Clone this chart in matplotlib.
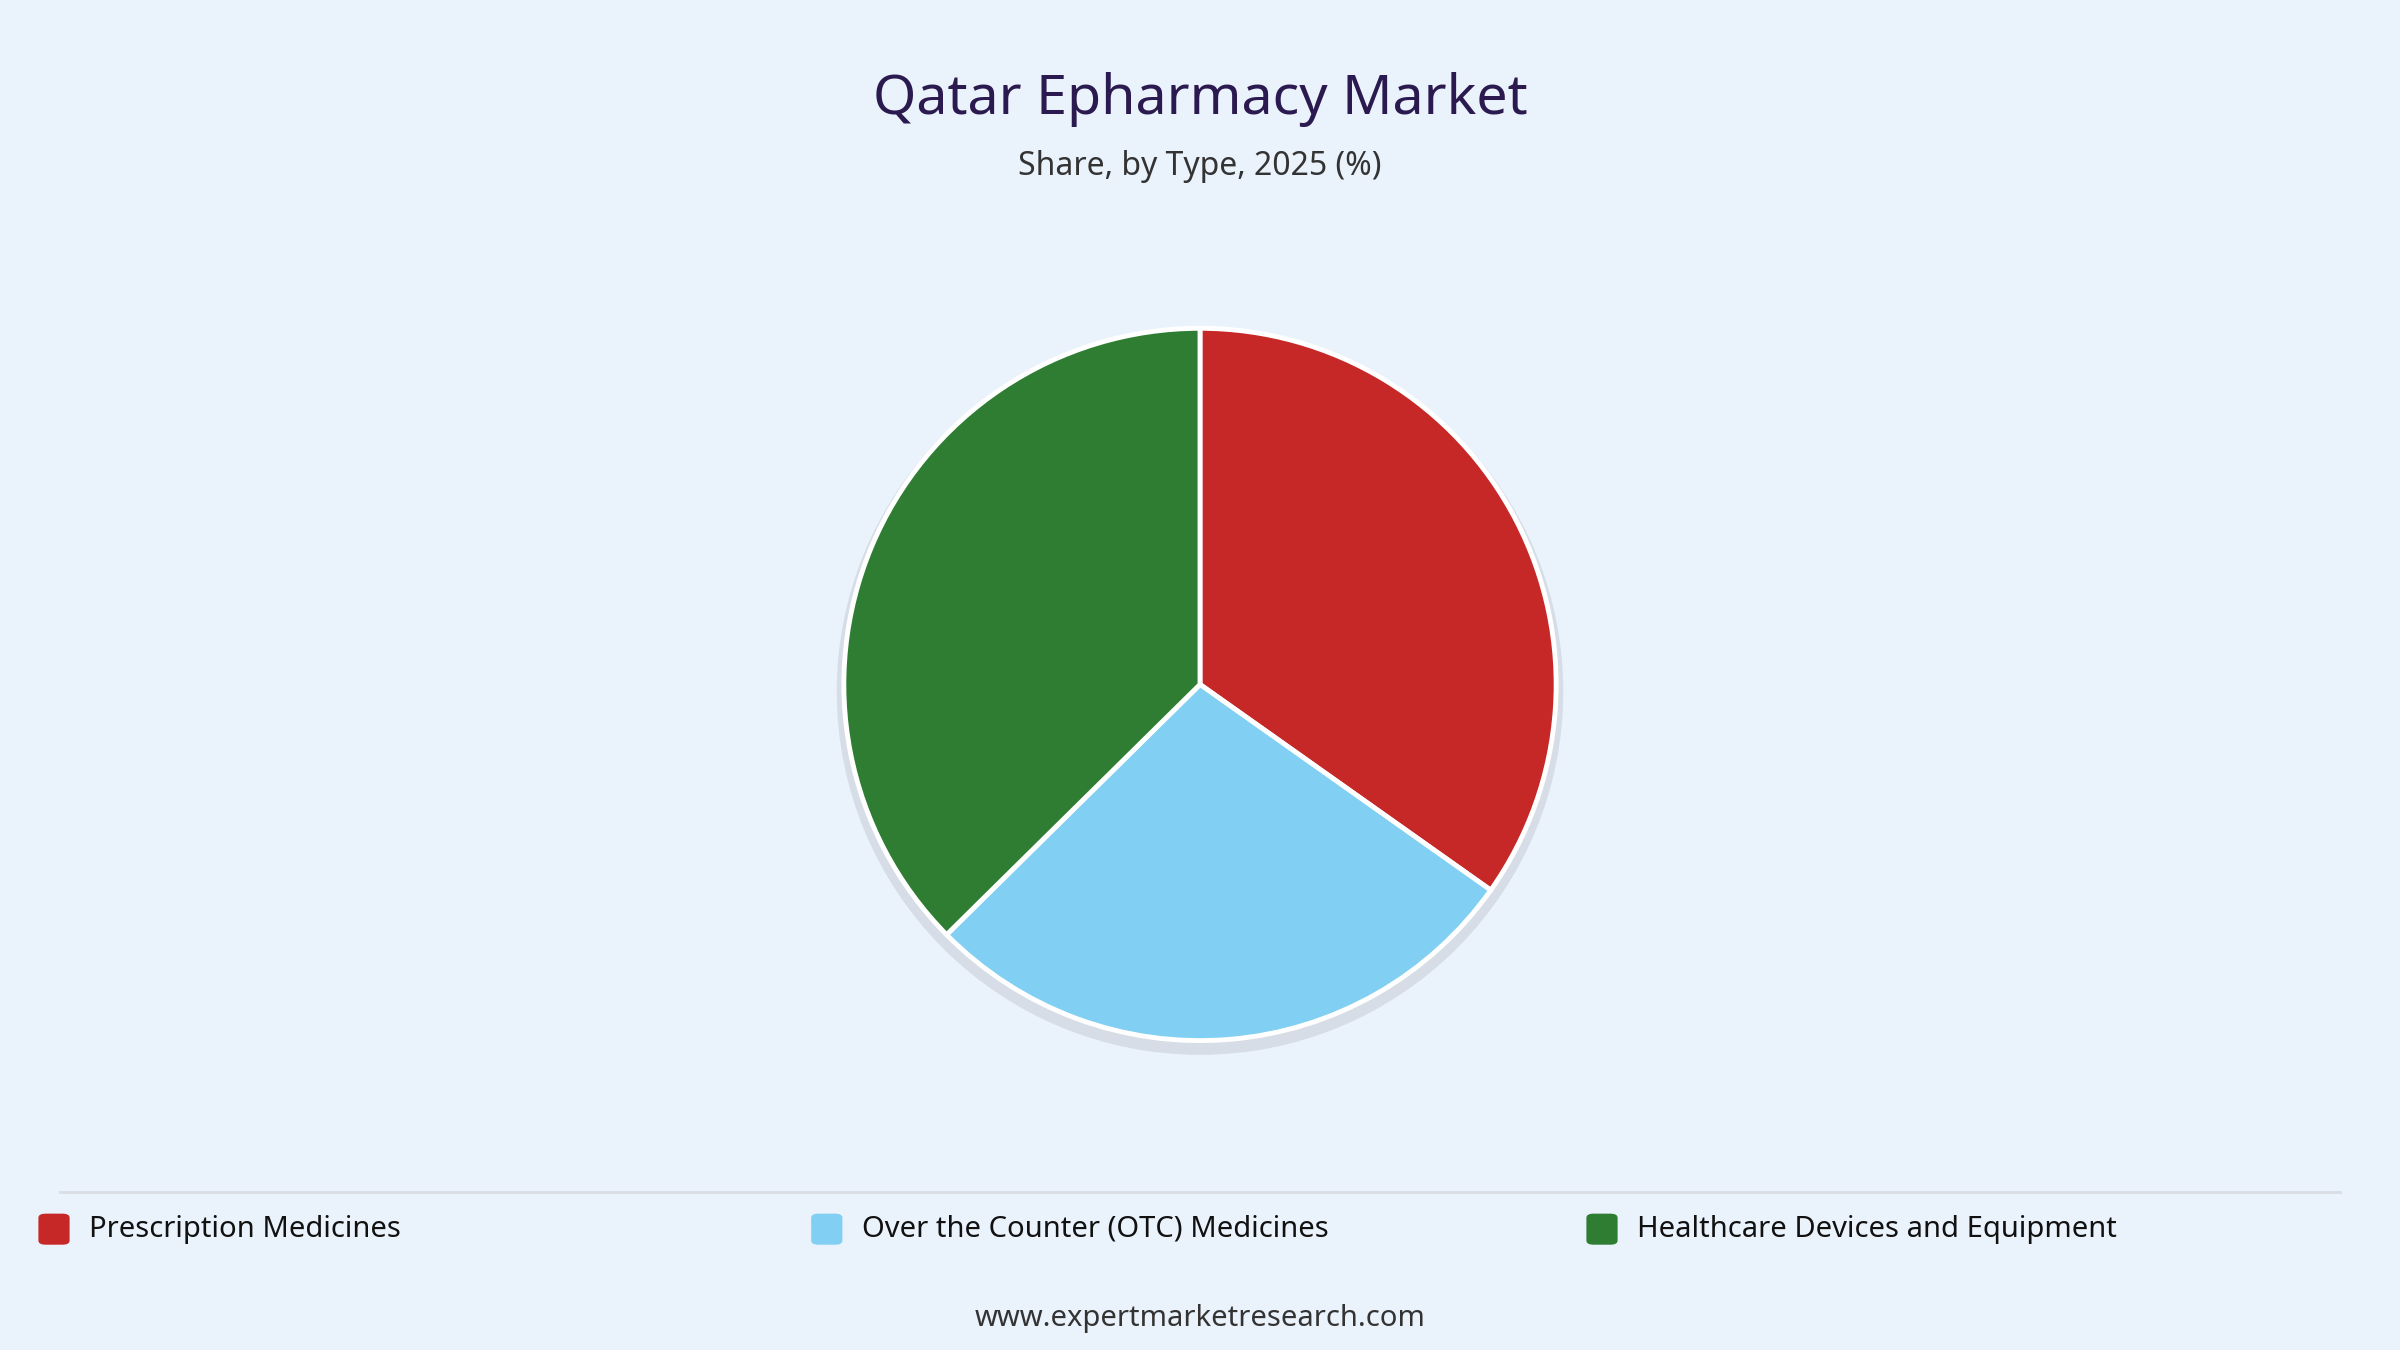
import matplotlib
matplotlib.use("Agg")
import matplotlib.pyplot as plt
from matplotlib.patches import FancyBboxPatch
from matplotlib.lines import Line2D

categories = ["Prescription Medicines", "Over the Counter (OTC) Medicines", "Healthcare Devices and Equipment"]
values = [34.8, 27.8, 37.4]
colors = ["#C62828", "#81CFF2", "#2E7D32"]
title = "Qatar Epharmacy Market"
subtitle = "Share, by Type, 2025 (%)"
footer = "www.expertmarketresearch.com"

plt.rcParams['font.family'] = ['Noto Sans', 'DejaVu Sans']
bg = "#EAF2FB"
fig = plt.figure(figsize=(24, 13.5), dpi=100, facecolor=bg)

fig.text(0.5, 0.926, title, ha='center', va='center', fontsize=40, fontweight='bold', color='#2B1A4F')
fig.text(0.5, 0.877, subtitle, ha='center', va='center', fontsize=23, fontweight='bold', color='#333333')

r = 0.277 * 13.5
ax = fig.add_axes([0.5 - r / 24, 0.493 - r / 13.5, 2 * r / 24, 2 * r / 13.5])
ax.set_facecolor(bg)
# subtle shadow
ax.pie([1], colors=['#d6dde6'], radius=1.02, center=(0.0, -0.02), wedgeprops=dict(linewidth=0))
ax.pie(values, colors=colors, startangle=90, counterclock=False,
       wedgeprops=dict(edgecolor='white', linewidth=3.5))
ax.set_xlim(-1.05, 1.05)
ax.set_ylim(-1.05, 1.05)
ax.set_aspect('equal')
ax.axis('off')

fig.add_artist(Line2D([0.025, 0.975], [0.117, 0.117], color='#d9dde3', lw=2, transform=fig.transFigure))

xs = [0.016, 0.338, 0.661]
for x, c, lab in zip(xs, colors, categories):
    fig.add_artist(FancyBboxPatch((x, 0.078), 0.013, 0.023, boxstyle="round,pad=0,rounding_size=0.003",
                                  transform=fig.transFigure, facecolor=c, edgecolor='none'))
    fig.text(x + 0.021, 0.0895, lab, ha='left', va='center', fontsize=21, fontweight='bold', color='#111111')

fig.text(0.5, 0.023, footer, ha='center', va='center', fontsize=21, fontweight='bold', color='#333333')

fig.savefig("out.png", dpi=100, facecolor=bg)
